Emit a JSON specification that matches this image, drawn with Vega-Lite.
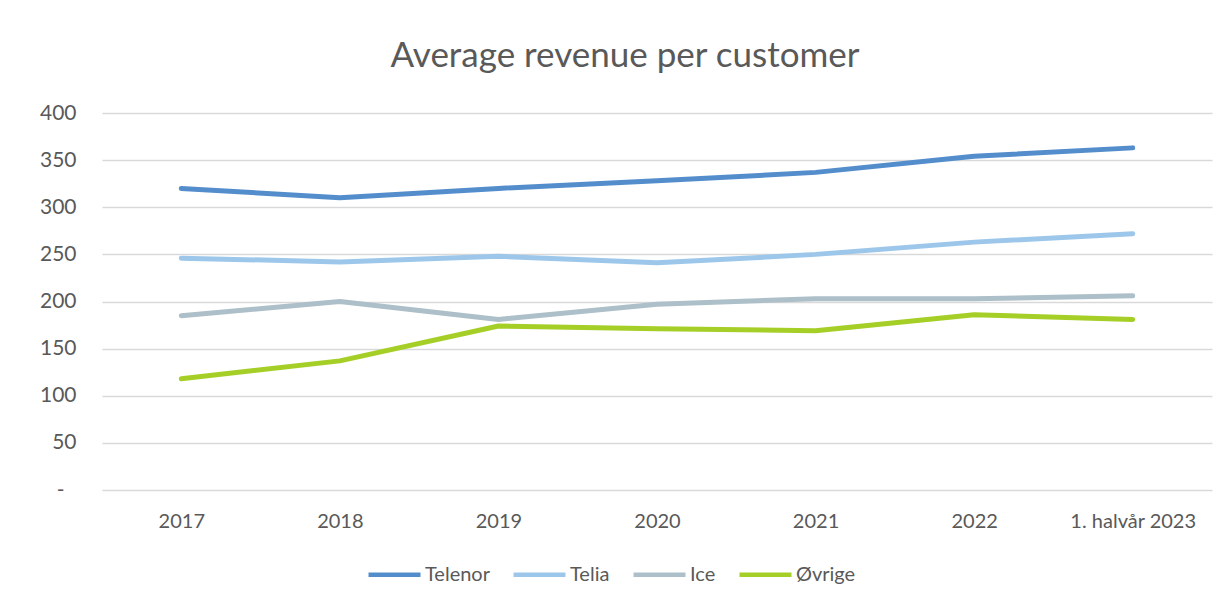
{
  "$schema": "https://vega.github.io/schema/vega-lite/v6.json",
  "autosize": "none",
  "width": 1110,
  "height": 377,
  "padding": {"left": 102, "top": 113, "right": 19, "bottom": 120},
  "background": "white",
  "title": {
    "text": "Average revenue per customer",
    "font": "Lato",
    "fontSize": 35,
    "fontWeight": "normal",
    "color": "#595959",
    "anchor": "middle",
    "dx": -32,
    "offset": 28
  },
  "data": {
    "values": [
      {"period": "2017", "operator": "Telenor", "value": 320},
      {"period": "2018", "operator": "Telenor", "value": 310},
      {"period": "2019", "operator": "Telenor", "value": 320},
      {"period": "2020", "operator": "Telenor", "value": 328},
      {"period": "2021", "operator": "Telenor", "value": 337},
      {"period": "2022", "operator": "Telenor", "value": 354},
      {"period": "1. halvår 2023", "operator": "Telenor", "value": 363},
      {"period": "2017", "operator": "Telia", "value": 246},
      {"period": "2018", "operator": "Telia", "value": 242},
      {"period": "2019", "operator": "Telia", "value": 248},
      {"period": "2020", "operator": "Telia", "value": 241},
      {"period": "2021", "operator": "Telia", "value": 250},
      {"period": "2022", "operator": "Telia", "value": 263},
      {"period": "1. halvår 2023", "operator": "Telia", "value": 272},
      {"period": "2017", "operator": "Ice", "value": 185},
      {"period": "2018", "operator": "Ice", "value": 200},
      {"period": "2019", "operator": "Ice", "value": 181},
      {"period": "2020", "operator": "Ice", "value": 197},
      {"period": "2021", "operator": "Ice", "value": 203},
      {"period": "2022", "operator": "Ice", "value": 203},
      {"period": "1. halvår 2023", "operator": "Ice", "value": 206},
      {"period": "2017", "operator": "Øvrige", "value": 118},
      {"period": "2018", "operator": "Øvrige", "value": 137},
      {"period": "2019", "operator": "Øvrige", "value": 174},
      {"period": "2020", "operator": "Øvrige", "value": 171},
      {"period": "2021", "operator": "Øvrige", "value": 169},
      {"period": "2022", "operator": "Øvrige", "value": 186},
      {"period": "1. halvår 2023", "operator": "Øvrige", "value": 181}
    ]
  },
  "mark": {"type": "line", "strokeWidth": 5, "strokeCap": "round", "strokeJoin": "round"},
  "encoding": {
    "x": {
      "field": "period",
      "type": "nominal",
      "sort": ["2017", "2018", "2019", "2020", "2021", "2022", "1. halvår 2023"],
      "scale": {"type": "point", "padding": 0.5},
      "axis": {
        "title": null,
        "labelAngle": 0,
        "ticks": false,
        "domain": false,
        "grid": false,
        "labelPadding": 21,
        "labelFont": "Lato",
        "labelFontSize": 20,
        "labelColor": "#595959"
      }
    },
    "y": {
      "field": "value",
      "type": "quantitative",
      "scale": {"domain": [0, 400], "nice": false},
      "axis": {
        "title": null,
        "values": [0, 50, 100, 150, 200, 250, 300, 350, 400],
        "labelExpr": "datum.value == 0 ? '-' : datum.label",
        "ticks": false,
        "domain": false,
        "grid": true,
        "gridColor": "#d9d9d9",
        "gridWidth": 1.5,
        "labelPadding": {"condition": {"test": "datum.value == 0", "value": 38}, "value": 26},
        "labelFont": "Lato",
        "labelFontSize": 21,
        "labelColor": "#595959"
      }
    },
    "color": {
      "field": "operator",
      "type": "nominal",
      "sort": ["Telenor", "Telia", "Ice", "Øvrige"],
      "scale": {
        "domain": ["Telenor", "Telia", "Ice", "Øvrige"],
        "range": ["#548dcc", "#9dc7ea", "#adbfc8", "#a5cf27"]
      },
      "legend": {
        "title": null,
        "orient": "none",
        "legendX": 264,
        "legendY": 433,
        "padding": 0,
        "direction": "horizontal",
        "symbolType": "stroke",
        "symbolSize": 2704,
        "symbolStrokeWidth": 4.5,
        "labelFont": "Lato",
        "labelFontSize": 20,
        "labelColor": "#595959",
        "columnPadding": 14,
        "labelOffset": 2
      }
    }
  },
  "config": {"view": {"stroke": null}}
}
